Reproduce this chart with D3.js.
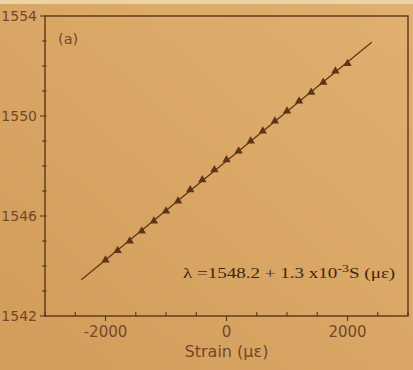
<!DOCTYPE html>
<html>
<head>
<meta charset="utf-8">
<script src="https://cdn.jsdelivr.net/npm/d3@7"></script>
<style>
  body { margin: 0; background: #dcaa68; }
  svg { display: block; }
</style>
</head>
<body>
<div id="chart"></div>
<script>
let width = 413,
  height = 370

let strain = [-2000, -1800, -1600, -1400, -1200, -1000, -800, -600, -400, -200, 0,
  200, 400, 600, 800, 1000, 1200, 1400, 1600, 1800, 2000]
let wavelength = [1544.24, 1544.62, 1545.0, 1545.4, 1545.8, 1546.2, 1546.6, 1547.05, 1547.45, 1547.85, 1548.25,
  1548.6, 1549.0, 1549.4, 1549.8, 1550.2, 1550.6, 1550.95, 1551.35, 1551.8, 1552.1]
let fitStrain = [-2400, 2400]
let fitWavelength = [1543.45, 1552.95]

let xTicks = [-2000, 0, 2000]
let yTicks = [1542, 1546, 1550, 1554]

let ink = '#5c3518',
  textInk = '#74462a'

let svg = d3.select('#chart').append('svg')
  .attr('width', width)
  .attr('height', height)

let defs = svg.append('defs')
let grad = defs.append('linearGradient')
  .attr('id', 'paper')
  .attr('x1', '100%').attr('y1', '0%')
  .attr('x2', '0%').attr('y2', '100%')
grad.append('stop').attr('offset', '0%').attr('stop-color', '#e0b070')
grad.append('stop').attr('offset', '100%').attr('stop-color', '#d29c5a')

svg.append('rect')
  .attr('width', width)
  .attr('height', height)
  .attr('fill', 'url(#paper)')

svg.append('rect')
  .attr('width', width)
  .attr('height', 4)
  .attr('fill', '#ecd3a4')

let x = d3.scaleLinear()
  .domain([-3000, 3000])
  .range([45, 408])

let y = d3.scaleLinear()
  .domain([1542, 1554])
  .range([316, 16])

// frame
svg.append('rect')
  .attr('x', x(-3000))
  .attr('y', y(1554))
  .attr('width', x(3000) - x(-3000))
  .attr('height', y(1542) - y(1554))
  .attr('fill', 'none')
  .attr('stroke', ink)
  .attr('stroke-width', 1.4)

// x ticks: labelled ones outward, the rest inward
let xAll = d3.range(-3000, 3001, 500)
svg.selectAll('.xtick')
  .data(xAll)
  .enter().append('line')
  .attr('class', 'xtick')
  .attr('x1', d => x(d))
  .attr('x2', d => x(d))
  .attr('y1', y(1542))
  .attr('y2', d => xTicks.includes(d) ? y(1542) + 5 : y(1542) - 4)
  .attr('stroke', ink)
  .attr('stroke-width', 1.1)

svg.selectAll('.xlabel')
  .data(xTicks)
  .enter().append('text')
  .attr('class', 'xlabel')
  .attr('x', d => x(d))
  .attr('y', 337)
  .attr('text-anchor', 'middle')
  .attr('font-family', 'DejaVu Sans')
  .attr('font-size', 15)
  .attr('fill', textInk)
  .text(d => d)

// y ticks every 1 nm
let yAll = d3.range(1542, 1555, 1)
svg.selectAll('.ytick')
  .data(yAll)
  .enter().append('line')
  .attr('class', 'ytick')
  .attr('y1', d => y(d))
  .attr('y2', d => y(d))
  .attr('x1', d => yTicks.includes(d) ? x(-3000) - 5 : x(-3000) - 3)
  .attr('x2', x(-3000) + 1.5)
  .attr('stroke', ink)
  .attr('stroke-width', 1.1)

svg.selectAll('.ylabel')
  .data(yTicks)
  .enter().append('text')
  .attr('class', 'ylabel')
  .attr('x', 37)
  .attr('y', d => y(d) + 5)
  .attr('text-anchor', 'end')
  .attr('font-family', 'DejaVu Sans')
  .attr('font-size', 14)
  .attr('fill', textInk)
  .text(d => d)

svg.append('text')
  .attr('x', x(0))
  .attr('y', 357)
  .attr('text-anchor', 'middle')
  .attr('font-family', 'DejaVu Sans')
  .attr('font-size', 16)
  .attr('fill', textInk)
  .text('Strain (\u03bc\u03b5)')

svg.append('text')
  .attr('x', 58)
  .attr('y', 44)
  .attr('font-family', 'DejaVu Sans')
  .attr('font-size', 14.5)
  .attr('fill', textInk)
  .text('(a)')

// fitted line
let line = d3.line()
  .x(d => x(d[0]))
  .y(d => y(d[1]))

svg.append('path')
  .datum(d3.zip(fitStrain, fitWavelength))
  .attr('d', line)
  .attr('fill', 'none')
  .attr('stroke', ink)
  .attr('stroke-width', 1.2)

// measured points
let tri = d3.symbol().type(d3.symbolTriangle).size(30)
svg.selectAll('.pt')
  .data(d3.zip(strain, wavelength))
  .enter().append('path')
  .attr('class', 'pt')
  .attr('transform', d => 'translate(' + x(d[0]) + ',' + y(d[1]) + ')')
  .attr('d', tri)
  .attr('fill', ink)

// fit equation, Times-like and a little stretched as in the print
let eq = svg.append('text')
  .attr('transform', 'translate(183,278) scale(1.27,1)')
  .attr('font-family', 'Liberation Serif')
  .attr('font-size', 15)
  .attr('fill', '#3f2410')
eq.append('tspan').text('\u03bb =1548.2 + 1.3 x10')
eq.append('tspan').attr('dy', -6).attr('font-size', 11).text('-3')
eq.append('tspan').attr('dy', 6).text('S (\u03bc\u03b5)')
</script>
</body>
</html>
